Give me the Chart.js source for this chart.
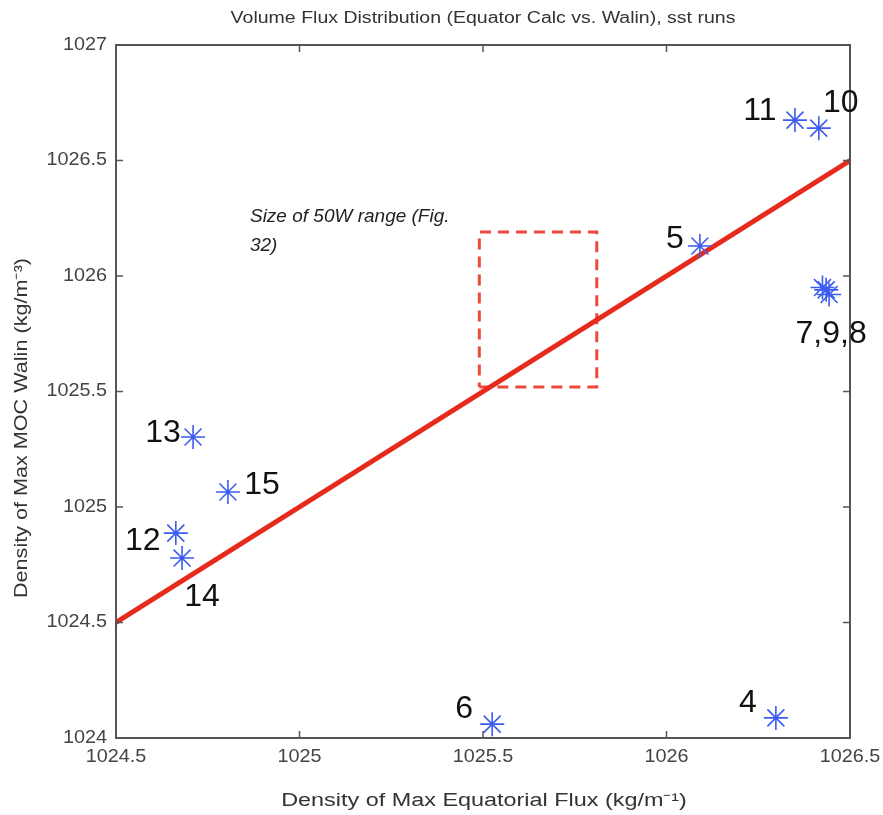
<!DOCTYPE html>
<html>
<head>
<meta charset="utf-8">
<script src="https://cdn.jsdelivr.net/npm/chart.js@4.4.1/dist/chart.umd.min.js"></script>
<style>
  html, body { margin: 0; padding: 0; background: #fff; }
  #wrap { width: 883px; height: 815px; position: relative; }
</style>
</head>
<body>
<div id="wrap"><canvas id="chart"></canvas></div>
<script>
// Volume flux distribution: equator calc vs. Walin (sst runs)

const runIds  = ["11", "10", "5", "7,9,8", "13", "15", "12", "14", "6", "4"]
const equatorDensity = [1026.35, 1026.415, 1026.091, 1026.435, 1024.71, 1024.805, 1024.663, 1024.68, 1025.525, 1026.298]
const walinDensity   = [1026.675, 1026.64, 1026.13, 1025.94, 1025.303, 1025.065, 1024.887, 1024.779, 1024.06, 1024.087]

// extra overlapping runs hidden under the 7,9,8 label
const overlapX = [1026.425, 1026.443]
const overlapY = [1025.95, 1025.92]

const fitX = [1024.5, 1026.5]
const fitY = [1024.5, 1026.5]

// 50W range box corners
const boxX = [1025.49, 1025.81, 1025.81, 1025.49, 1025.49]
const boxY = [1025.52, 1025.52, 1026.19, 1026.19, 1025.52]

const xTicks = [1024.5, 1025, 1025.5, 1026, 1026.5]
const yTicks = [1024, 1024.5, 1025, 1025.5, 1026, 1026.5, 1027]

// label offsets in px relative to the marker
const labelOffsets = [[-35, -9], [22, -25], [-25, -7], [5, 44], [-30, -4], [34, -7], [-33, 8], [20, 39], [-28, -15], [-28, -15]]

const FONT = "'Liberation Sans', Arial, sans-serif"

// the source figure is stretched sideways, so text is drawn with a horizontal scale
function stretchText(ctx, text, x, y, sx, align) {
  ctx.save()
  ctx.translate(x, y)
  ctx.scale(sx, 1)
  ctx.textAlign = align || "center"
  ctx.fillText(text, 0, 0)
  ctx.restore()
}

const matlabDecor = {
  id: "matlabDecor",
  afterDatasetsDraw(chart) {
    const { ctx, chartArea: a, scales: { x, y } } = chart
    ctx.save()

    // box
    ctx.strokeStyle = "#555"
    ctx.lineWidth = 2
    ctx.strokeRect(a.left, a.top, a.right - a.left, a.bottom - a.top)

    // inward ticks on all four sides
    ctx.lineWidth = 1.5
    ctx.beginPath()
    xTicks.forEach(v => {
      const px = x.getPixelForValue(v)
      ctx.moveTo(px, a.bottom); ctx.lineTo(px, a.bottom - 7)
      ctx.moveTo(px, a.top); ctx.lineTo(px, a.top + 7)
    })
    yTicks.forEach(v => {
      const py = y.getPixelForValue(v)
      ctx.moveTo(a.left, py); ctx.lineTo(a.left + 7, py)
      ctx.moveTo(a.right, py); ctx.lineTo(a.right - 7, py)
    })
    ctx.stroke()

    ctx.textBaseline = "middle"

    // tick labels
    ctx.fillStyle = "#444"
    ctx.font = "18px " + FONT
    xTicks.forEach(v => stretchText(ctx, String(v), x.getPixelForValue(v), 757, 1.1))
    yTicks.forEach(v => stretchText(ctx, String(v), 107, y.getPixelForValue(v), 1.1, "right"))

    // run labels
    ctx.fillStyle = "#111"
    ctx.font = "32px " + FONT
    runIds.forEach((t, i) => {
      const px = x.getPixelForValue(equatorDensity[i]) + labelOffsets[i][0]
      const py = y.getPixelForValue(walinDensity[i]) + labelOffsets[i][1]
      stretchText(ctx, t, px, py, 1.0)
    })

    // annotation
    ctx.font = "italic 19px " + FONT
    ctx.textAlign = "left"
    ctx.fillStyle = "#222"
    ctx.fillText("Size of 50W range (Fig.", x.getPixelForValue(1024.865), y.getPixelForValue(1026.255))
    ctx.fillText("32)", x.getPixelForValue(1024.865), y.getPixelForValue(1026.13))

    // titles
    ctx.fillStyle = "#333"
    ctx.font = "16px " + FONT
    stretchText(ctx, "Volume Flux Distribution (Equator Calc vs. Walin), sst runs", (a.left + a.right) / 2, 19, 1.22)
    ctx.font = "18px " + FONT
    stretchText(ctx, "Density of Max Equatorial Flux (kg/m\u207B\u00B9)", 484, 801, 1.3)
    ctx.translate(22, 428)
    ctx.rotate(-Math.PI / 2)
    stretchText(ctx, "Density of Max MOC Walin (kg/m\u207B\u00B3)", 0, 0, 1.2)
    ctx.restore()
  },
}

new Chart(document.getElementById("chart"), {
  type: "scatter",
  data: {
    datasets: [
      {
        type: "line",
        data: fitX.map((v, i) => ({ x: v, y: fitY[i] })),
        borderColor: "#e62a1c",
        borderWidth: 5,
        pointRadius: 0,
        order: 2,
      },
      {
        type: "line",
        data: boxX.map((v, i) => ({ x: v, y: boxY[i] })),
        borderColor: "#ea4a3c",
        borderWidth: 3,
        borderDash: [11, 7],
        pointRadius: 0,
        order: 3,
      },
      {
        data: equatorDensity.map((v, i) => ({ x: v, y: walinDensity[i] }))
          .concat(overlapX.map((v, i) => ({ x: v, y: overlapY[i] }))),
        pointStyle: "star",
        pointRadius: 12,
        borderColor: "#3c5cf0",
        backgroundColor: "#3c5cf0",
        borderWidth: 1.6,
        order: 1,
      },
    ],
  },
  options: {
    responsive: true,
    maintainAspectRatio: false,
    animation: false,
    layout: { padding: { top: 45, right: 33, left: 0, bottom: 0 } },
    plugins: { legend: { display: false }, tooltip: { enabled: false }, title: { display: false } },
    scales: {
      x: {
        type: "linear",
        min: 1024.5,
        max: 1026.5,
        afterBuildTicks: s => { s.ticks = xTicks.map(v => ({ value: v })) },
        afterFit: s => { s.height = 77 },
        grid: { display: false },
        border: { display: false },
        ticks: { display: false },
      },
      y: {
        type: "linear",
        min: 1024,
        max: 1027,
        afterBuildTicks: s => { s.ticks = yTicks.map(v => ({ value: v })) },
        afterFit: s => { s.width = 116 },
        grid: { display: false },
        border: { display: false },
        ticks: { display: false },
      },
    },
  },
  plugins: [matlabDecor],
})
</script>
</body>
</html>
